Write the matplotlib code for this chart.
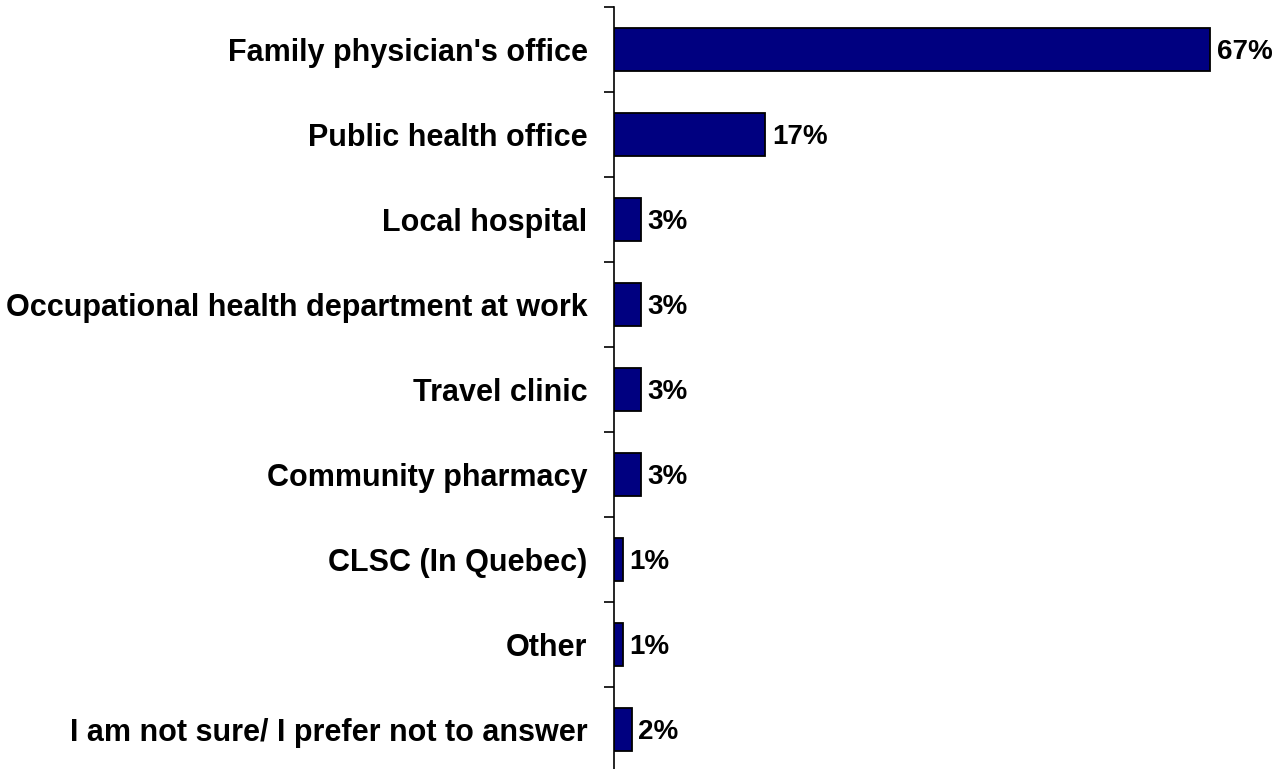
import matplotlib
matplotlib.use('Agg')
import matplotlib.pyplot as plt
import numpy as np

plt.rcParams['font.family'] = ['Liberation Sans', 'DejaVu Sans']

categories = ["Family physician's office", "Public health office", "Local hospital",
              "Occupational health department at work", "Travel clinic",
              "Community pharmacy", "CLSC (In Quebec)", "Other",
              "I am not sure/ I prefer not to answer"]
values = [67, 17, 3, 3, 3, 3, 1, 1, 2]
value_labels = ["67%", "17%", "3%", "3%", "3%", "3%", "1%", "1%", "2%"]

fig = plt.figure(figsize=(12.77, 7.69), dpi=100)
ax = fig.add_axes([614 / 1277, -3 / 769, 1 - 614 / 1277, 765 / 769])

y = np.arange(len(categories))
ax.barh(y, values, height=0.51, color='#000080', edgecolor='black', linewidth=1.3)

for yi, v, lab in zip(y, values, value_labels):
    ax.text(v + 0.75, yi + 0.03, lab, va='center', ha='left', fontsize=20, fontweight='bold')

ax.set_ylim(len(categories) - 0.5, -0.5)
ax.set_xlim(0, 74.5)
ax.set_yticks(y)
ax.set_yticklabels(categories, fontsize=22, fontweight='bold')
ax.set_yticks(np.arange(-0.5, len(categories), 1), minor=True)
ax.tick_params(axis='y', which='major', length=0, pad=19)
ax.tick_params(axis='y', which='minor', length=7, width=1.2, direction='out')
ax.set_xticks([])
for s in ['top', 'right', 'bottom']:
    ax.spines[s].set_visible(False)
ax.spines['left'].set_linewidth(1.2)
ax.patch.set_alpha(0)

fig.savefig('out.png', dpi=100)
